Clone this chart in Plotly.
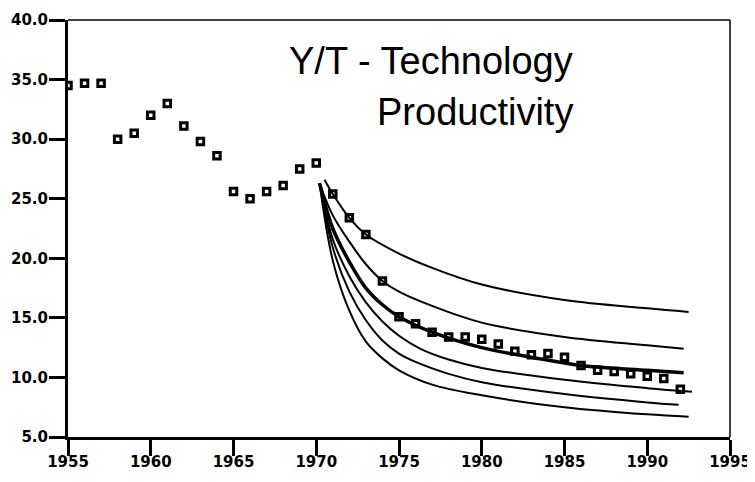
import plotly.graph_objects as go

# Observed data (squares)
years = list(range(1955, 1993))
observed = [34.5, 34.7, 34.7, 30.0, 30.5, 32.0, 33.0, 31.1, 29.8, 28.6,
            25.6, 25.0, 25.6, 26.1, 27.5, 28.0, 25.4, 23.4, 22.0, 18.1,
            15.1, 14.5, 13.8, 13.4, 13.4, 13.2, 12.8, 12.2, 11.9, 12.0,
            11.7, 11.0, 10.6, 10.5, 10.3, 10.1, 9.9, 9.0]

# Projection curves
curve_a_x = [1970.5, 1971, 1972, 1973, 1975, 1977, 1980, 1985, 1990, 1992.5]
curve_a_y = [26.6, 25.4, 23.4, 22.0, 20.4, 19.2, 17.8, 16.5, 15.8, 15.5]

curve_b_x = [1970.2, 1971, 1972, 1973, 1974, 1975, 1977, 1980, 1985, 1990, 1992.2]
curve_b_y = [26.3, 23.6, 21.4, 19.5, 18.1, 17.2, 16.0, 14.6, 13.4, 12.7, 12.4]

curve_c_x = [1970.2, 1971, 1972, 1973, 1974, 1975, 1977, 1980, 1983, 1986, 1990, 1992.2]
curve_c_y = [26.3, 22.5, 19.7, 17.5, 16.1, 15.1, 13.8, 12.5, 11.7, 11.0, 10.6, 10.4]

curve_d_x = [1970.2, 1971, 1972, 1973, 1974, 1975, 1976.3, 1978, 1980, 1985, 1990, 1992.7]
curve_d_y = [26.3, 21.6, 18.5, 16.3, 14.7, 13.5, 12.4, 11.5, 10.8, 9.8, 9.1, 8.8]

curve_e_x = [1970.2, 1971, 1972, 1973, 1974, 1975, 1976, 1978, 1980, 1985, 1990, 1991.9]
curve_e_y = [26.3, 20.9, 17.2, 14.8, 13.1, 12.0, 11.3, 10.3, 9.6, 8.6, 7.9, 7.7]

curve_f_x = [1970.2, 1971, 1972, 1973, 1974, 1975, 1977, 1980, 1985, 1990, 1992.5]
curve_f_y = [26.3, 19.8, 15.6, 13.0, 11.6, 10.6, 9.4, 8.5, 7.5, 6.9, 6.7]

x_ticks = [1955, 1960, 1965, 1970, 1975, 1980, 1985, 1990, 1995]
y_ticks = [5, 10, 15, 20, 25, 30, 35, 40]

fig = go.Figure()

fig.add_trace(go.Scatter(
    x=years, y=observed, mode="markers",
    marker=dict(symbol="square", size=6.5, color="white",
                line=dict(color="black", width=3)),
    showlegend=False, hoverinfo="skip"))

curves = [
    (curve_a_x, curve_a_y, 2),
    (curve_b_x, curve_b_y, 2),
    (curve_c_x, curve_c_y, 3.5),
    (curve_d_x, curve_d_y, 2),
    (curve_e_x, curve_e_y, 2),
    (curve_f_x, curve_f_y, 2),
]
for cx, cy, w in curves:
    fig.add_trace(go.Scatter(
        x=cx, y=cy, mode="lines",
        line=dict(color="black", width=w, shape="spline", smoothing=1.0),
        showlegend=False, hoverinfo="skip"))

tickfont = dict(family="DejaVu Sans, Verdana, sans-serif", size=15,
                color="black", weight="bold")
titlefont = dict(family="Liberation Sans, Arial, sans-serif", size=38, color="black")

# The page body has an 8px default margin, so the figure is 8px smaller
fig.update_layout(
    width=747, height=474,
    margin=dict(l=60, r=25, t=12, b=45),
    paper_bgcolor="white", plot_bgcolor="white",
    xaxis=dict(range=[1955, 1995], tickvals=x_ticks,
               ticktext=[str(v) for v in x_ticks],
               showgrid=False, zeroline=False, automargin=False,
               showline=True, linecolor="black", linewidth=3,
               ticks="outside", ticklen=16, tickwidth=3, tickcolor="black",
               ticklabelstandoff=-7,
               tickfont=tickfont),
    yaxis=dict(range=[5, 40], tickvals=y_ticks,
               ticktext=[f"{v:.1f}" for v in y_ticks],
               showgrid=False, zeroline=False, automargin=False,
               showline=True, linecolor="black", linewidth=3,
               ticks="outside", ticklen=16, tickwidth=3, tickcolor="black",
               ticklabelstandoff=-2,
               tickfont=tickfont),
    shapes=[
        dict(type="line", xref="paper", yref="paper", x0=0, x1=1, y0=1, y1=1,
             line=dict(color="black", width=1.5)),
        dict(type="line", xref="paper", yref="paper", x0=1, x1=1, y0=0, y1=1,
             line=dict(color="black", width=1.5)),
    ],
    annotations=[
        dict(text="Y/T - Technology", xref="paper", yref="paper",
             x=0.766, y=0.902, xanchor="right", yanchor="middle",
             showarrow=False, font=titlefont),
        dict(text="Productivity", xref="paper", yref="paper",
             x=0.766, y=0.779, xanchor="right", yanchor="middle",
             showarrow=False, font=titlefont),
    ],
)

fig.write_html("out.html")
